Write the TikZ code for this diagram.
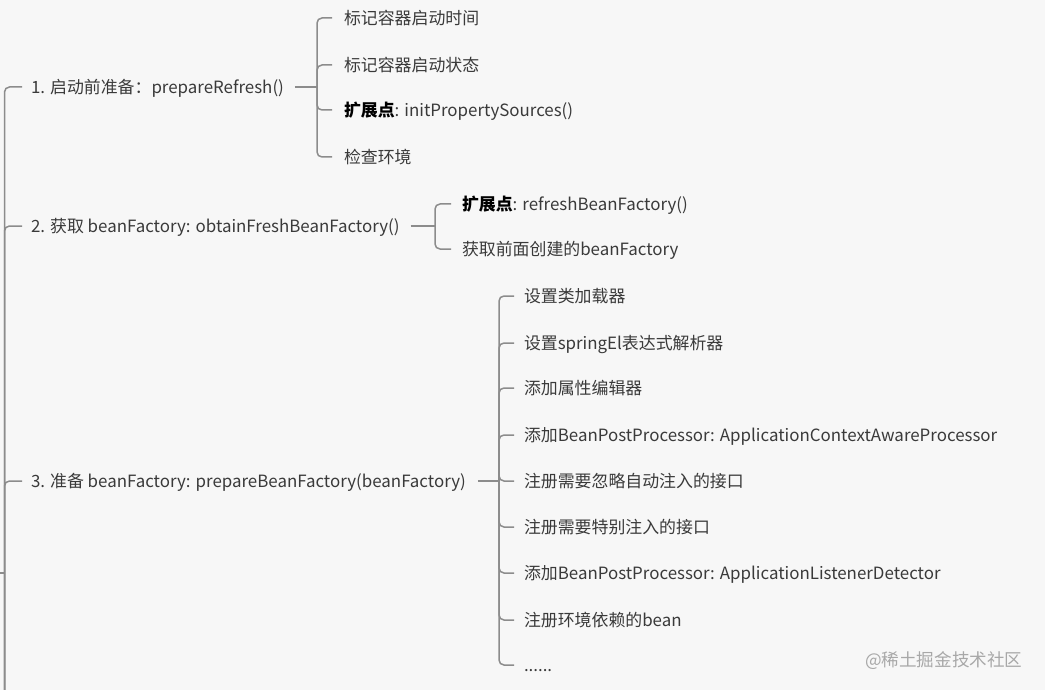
\documentclass[tikz,border=0pt]{standalone}
\usepackage{fontspec}
\setmainfont{Noto Sans CJK SC}
\definecolor{bg}{HTML}{F7F7F7}
\definecolor{txt}{HTML}{3A3A3A}
\definecolor{ln}{HTML}{8C8C8C}
\definecolor{wm}{HTML}{A8A8A8}
\begin{document}
\begin{tikzpicture}[x=1pt,y=-1pt,
  every node/.style={inner sep=0pt, outer sep=0pt, anchor=west, text=txt,
    font=\fontsize{16.9pt}{18pt}\selectfont, text height=14.8pt, text depth=2pt},
  conn/.style={draw=ln, line width=1.5pt, rounded corners=5pt}]
\fill[bg] (0,0) rectangle (1045,690);
\useasboundingbox (0,0) rectangle (1045,690);
% level 1
\node (p1) at (31,87) {1. 启动前准备：prepareRefresh()};
\node (p2) at (31,226) {2. 获取 beanFactory: obtainFreshBeanFactory()};
\node (p3) at (31,481) {3. 准备 beanFactory: prepareBeanFactory(beanFactory)};
% level 2 under p1
\node (a1) at (344,18) {标记容器启动时间};
\node (a2) at (344,65) {标记容器启动状态};
\node (a3) at (344,110) {\textbf{\color{black}扩展点}: initPropertySources()};
\node (a4) at (344,157) {检查环境};
% under p2
\node (b1) at (462,204) {\textbf{\color{black}扩展点}: refreshBeanFactory()};
\node (b2) at (462,249) {获取前面创建的beanFactory};
% under p3
\node (c1) at (524,296) {设置类加载器};
\node (c2) at (524,343) {设置springEl表达式解析器};
\node (c3) at (524,388) {添加属性编辑器};
\node (c4) at (524,435) {添加BeanPostProcessor: ApplicationContextAwareProcessor};
\node (c5) at (524,481) {注册需要忽略自动注入的接口};
\node (c6) at (524,527) {注册需要特别注入的接口};
\node (c7) at (524,573) {添加BeanPostProcessor: ApplicationListenerDetector};
\node (c8) at (524,620) {注册环境依赖的bean};
\node (c9) at (524,665) {......};
% watermark
\node[text=wm, font=\fontsize{17.6pt}{19pt}\selectfont] (wmk) at (865,660) {@稀土掘金技术社区};
% trunk
\coordinate (root) at (0,573);
\coordinate (tb) at (4.5,700);
\draw[conn] (root) -- (4.5,573);
\foreach \p in {p1,p2,p3} \draw[conn] (tb) |- ([xshift=-9pt]\p.west);
% junctions
\coordinate (j1) at (317,87);
\coordinate (j2) at (435,226);
\coordinate (j3) at (499,481);
\draw[conn] ([xshift=11pt]p1.east) -- (j1);
\draw[conn] ([xshift=11pt]p2.east) -- (j2);
\draw[conn] ([xshift=12pt]p3.east) -- (j3);
\foreach \c in {a1,a2,a3,a4} \draw[conn] (j1) |- ([xshift=-12pt]\c.west);
\foreach \c in {b1,b2} \draw[conn] (j2) |- ([xshift=-11pt]\c.west);
\foreach \c in {c1,c2,c3,c4,c5,c6,c7,c8,c9} \draw[conn] (j3) |- ([xshift=-10pt]\c.west);
\end{tikzpicture}
\end{document}
